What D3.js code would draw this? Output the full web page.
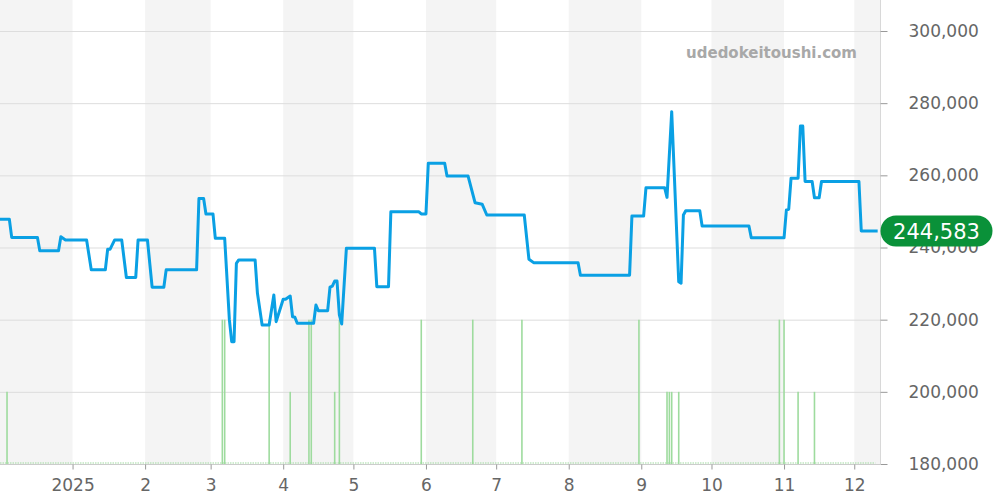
<!DOCTYPE html>
<html><head><meta charset="utf-8">
<script src="https://cdn.jsdelivr.net/npm/d3@7"></script>
<style>
html,body{margin:0;padding:0;background:#fff;}
svg{display:block;font-family:"DejaVu Sans",sans-serif;}
</style></head>
<body>
<svg id="chart" width="1000" height="500"></svg>
<script>
// ---- data ----
const priceDates = ["2024-12-01","2024-12-05","2024-12-06","2024-12-17","2024-12-18","2024-12-26","2024-12-27","2024-12-29",
"2025-01-07","2025-01-09","2025-01-15","2025-01-16","2025-01-17","2025-01-19","2025-01-22","2025-01-24","2025-01-28","2025-01-29",
"2025-02-02","2025-02-04","2025-02-09","2025-02-10","2025-02-23","2025-02-24","2025-02-26","2025-02-27","2025-03-02","2025-03-03",
"2025-03-07","2025-03-09","2025-03-10","2025-03-11","2025-03-12","2025-03-13","2025-03-20","2025-03-21","2025-03-23","2025-03-26",
"2025-03-28","2025-03-29","2025-04-01","2025-04-02","2025-04-04","2025-04-05","2025-04-06","2025-04-07","2025-04-14","2025-04-15",
"2025-04-16","2025-04-20","2025-04-21","2025-04-22","2025-04-23","2025-04-24","2025-04-25","2025-04-26","2025-04-28","2025-05-10",
"2025-05-11","2025-05-16","2025-05-17","2025-05-29","2025-05-30","2025-06-01","2025-06-02","2025-06-09","2025-06-10","2025-06-19",
"2025-06-22","2025-06-25","2025-06-27","2025-07-13","2025-07-15","2025-07-17","2025-08-05","2025-08-06","2025-08-27","2025-08-28",
"2025-09-02","2025-09-03","2025-09-11","2025-09-12","2025-09-14","2025-09-17","2025-09-18","2025-09-19","2025-09-20","2025-09-26",
"2025-09-27","2025-10-17","2025-10-18","2025-11-01","2025-11-02","2025-11-03","2025-11-04","2025-11-07","2025-11-08","2025-11-09",
"2025-11-10","2025-11-13","2025-11-14","2025-11-16","2025-11-17","2025-12-03","2025-12-04","2025-12-11"];
const priceValues = [247800,247800,242800,242800,239100,239100,243000,242100,
242100,233800,233800,239500,239500,242100,242100,231700,231700,242100,
242100,229000,229000,233800,233800,253600,253600,249300,249300,242550,
242550,220000,213900,213900,235600,236550,236550,227300,218500,218500,
226850,219450,225650,225650,226550,220800,220650,219000,219000,224050,
222500,222500,229000,229300,230700,230700,221300,218800,239800,239800,
229150,229150,249900,249900,249300,249300,263350,263350,259800,259800,
252400,252000,249000,249000,236750,235800,235800,232300,232300,248700,
248700,256550,256550,253900,277650,230500,230100,249000,250200,250200,
245950,245950,242700,242700,250400,250600,259200,259200,273650,273650,
258300,258300,253800,253800,258300,258300,244583,244583];

const volumeDates = ["2024-12-04","2025-03-06","2025-03-07","2025-03-26","2025-04-04","2025-04-12","2025-04-13","2025-04-23",
"2025-04-25","2025-05-30","2025-06-21","2025-07-12","2025-08-31","2025-09-12","2025-09-13","2025-09-14","2025-09-17",
"2025-10-30","2025-11-01","2025-11-07","2025-11-14"];
const volumeCounts = [1,2,2,2,1,2,2,1,2,2,2,2,2,1,1,1,1,2,2,1,1];

const monthTickDates = ["2025-01-01","2025-02-01","2025-03-01","2025-04-01","2025-05-01","2025-06-01","2025-07-01","2025-08-01","2025-09-01","2025-10-01","2025-11-01","2025-12-01"];
const monthTickLabels = ["2025","2","3","4","5","6","7","8","9","10","11","12"];
const yTickValues = [180000,200000,220000,240000,260000,280000,300000];
const lastPriceLabel = "244,583";
const watermark = "udedokeitoushi.com";

// ---- layout ----
const parse = d3.utcParse("%Y-%m-%d");
const W = 1000, H = 500;
const plot = {left: 0, right: 880, top: 31, bottom: 464};

const x = d3.scaleUtc().domain([parse("2024-12-01"), parse("2025-12-12")]).range([plot.left, plot.right]);
const y = d3.scaleLinear().domain([180000, 300000]).range([plot.bottom, plot.top]);
const yVol = d3.scaleLinear().domain([0, 6]).range([plot.bottom, plot.top]);

const svg = d3.select("#chart");

// month bands
const months = d3.utcMonth.range(parse("2024-12-01"), parse("2025-12-12"));
svg.append("g").selectAll("rect").data(months.filter((m, i) => i % 2 === 0)).join("rect")
  .attr("x", d => x(d))
  .attr("y", 0)
  .attr("width", d => Math.min(x(d3.utcMonth.offset(d, 1)), plot.right) - x(d))
  .attr("height", plot.bottom)
  .attr("fill", "#f4f4f4");

// horizontal grid
svg.append("g").selectAll("line").data(yTickValues).join("line")
  .attr("x1", plot.left).attr("x2", plot.right)
  .attr("y1", d => y(d) + 0.5).attr("y2", d => y(d) + 0.5)
  .attr("stroke", "#dddddd").attr("stroke-width", 1);

// right axis
const yAxis = d3.axisRight(y).tickValues(yTickValues).tickSize(7).tickPadding(21)
  .tickFormat(d3.format(","));
const gy = svg.append("g").attr("transform", `translate(${plot.right + 0.5},0)`).call(yAxis);
gy.select(".domain").attr("stroke", "#d8d8d8").attr("d", `M0,0V${plot.bottom}`);
gy.selectAll(".tick line").attr("stroke", "#999");
gy.selectAll(".tick text").attr("fill", "#666").attr("font-size", 17).attr("font-family", "DejaVu Sans");

// bottom axis
const xAxis = d3.axisBottom(x).tickValues(monthTickDates.map(parse)).tickSize(5).tickPadding(9)
  .tickFormat((d, i) => monthTickLabels[i]);
const gx = svg.append("g").attr("transform", `translate(0,${plot.bottom + 0.5})`).call(xAxis);
gx.select(".domain").attr("stroke", "#cccccc").attr("d", `M${plot.left},0H${plot.right}`);
gx.selectAll(".tick line").attr("stroke", "#999");
gx.selectAll(".tick text").attr("fill", "#666").attr("font-size", 17).attr("font-family", "DejaVu Sans");

// volume baseline (dotted)
svg.append("line")
  .attr("x1", x(parse("2024-12-01"))).attr("x2", x(parse("2025-12-10")))
  .attr("y1", yVol(0) - 1).attr("y2", yVol(0) - 1)
  .attr("stroke", "#9fd99f").attr("stroke-width", 1.2).attr("stroke-dasharray", "1.5,1");

// volume bars
svg.append("g").selectAll("line").data(volumeDates.map((d, i) => ({date: parse(d), c: volumeCounts[i]}))).join("line")
  .attr("x1", d => x(d.date)).attr("x2", d => x(d.date))
  .attr("y1", yVol(0)).attr("y2", d => yVol(d.c))
  .attr("stroke", "#9edb9e").attr("stroke-width", 1.6);

// price line
const pts = priceDates.map((d, i) => ({date: parse(d), v: priceValues[i]}));
const line = d3.line().x(d => x(d.date)).y(d => y(d.v));
svg.append("path").datum(pts)
  .attr("d", line)
  .attr("fill", "none")
  .attr("stroke", "#0aa0e4")
  .attr("stroke-width", 3)
  .attr("stroke-linejoin", "round")
  .attr("stroke-linecap", "butt");

// watermark
svg.append("text").attr("x", 857).attr("y", 58).attr("text-anchor", "end")
  .attr("font-size", 15).attr("font-weight", "bold").attr("fill", "#a8a8a8")
  .text(watermark);

// last price badge
const lastY = y(priceValues[priceValues.length - 1]);
const badge = svg.append("g");
badge.append("rect").attr("x", 880.5).attr("y", lastY - 15.5).attr("width", 112).attr("height", 31)
  .attr("rx", 15.5).attr("ry", 15.5).attr("fill", "#0a9139");
badge.append("text").attr("x", 936.5).attr("y", lastY).attr("dy", "0.36em").attr("text-anchor", "middle")
  .attr("font-size", 21).attr("fill", "#fff").text(lastPriceLabel);
</script>
</body></html>
